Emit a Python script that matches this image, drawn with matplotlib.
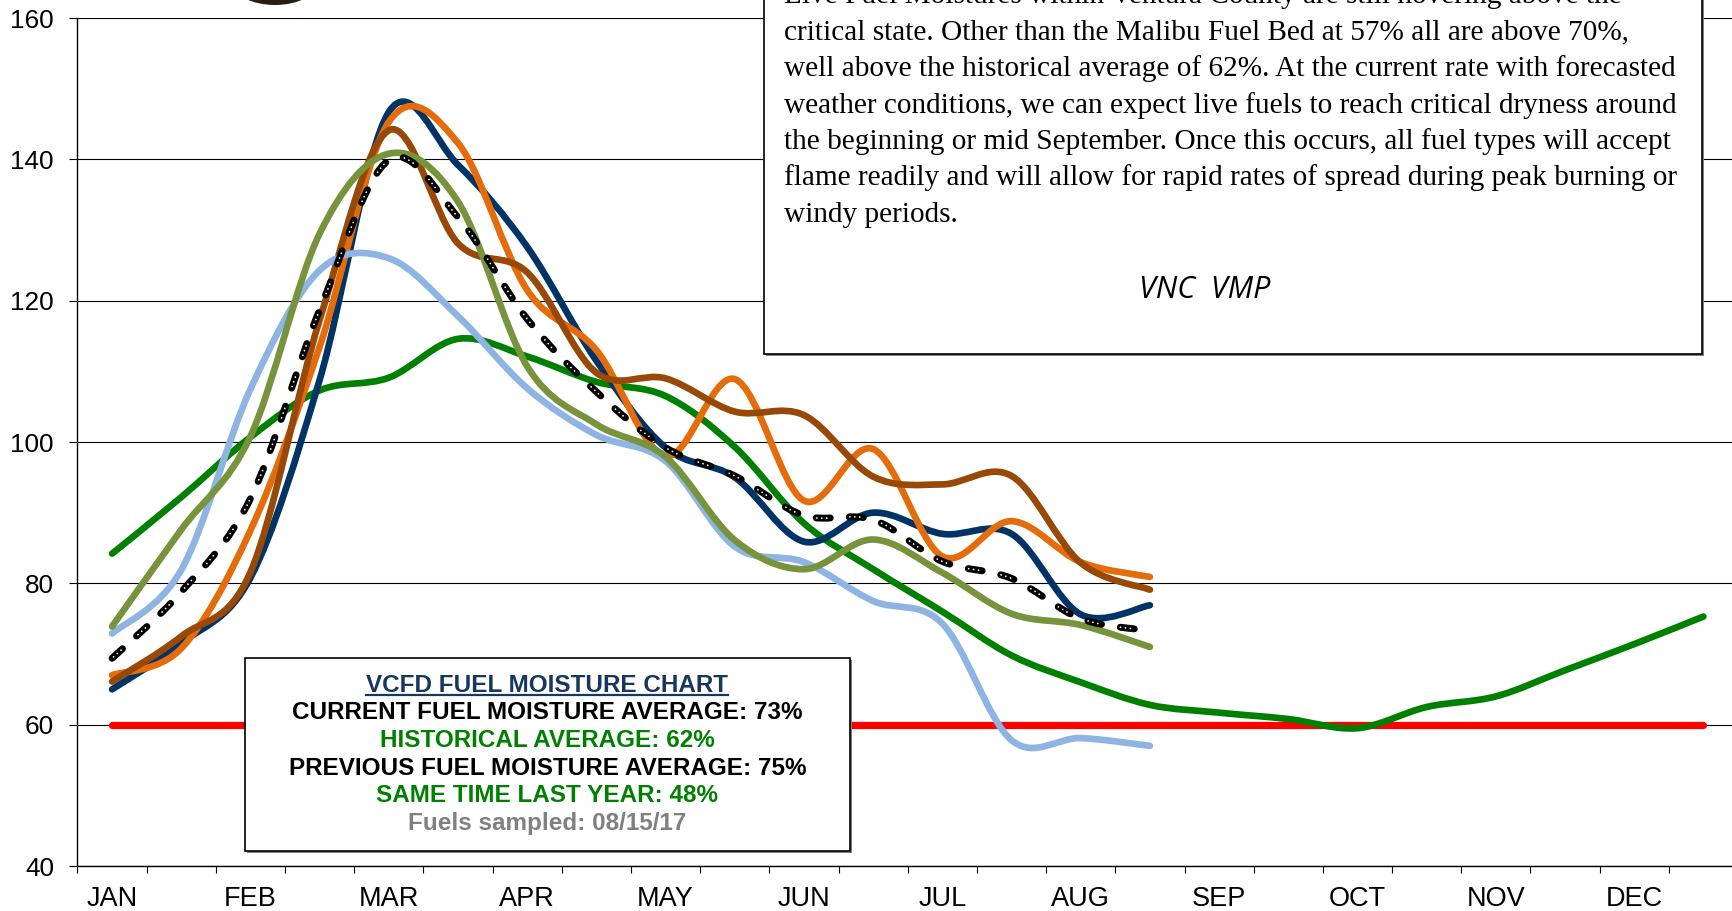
import numpy as np
import matplotlib
matplotlib.use("Agg")
import matplotlib.pyplot as plt
from matplotlib.path import Path
from matplotlib.patches import PathPatch, Rectangle, Ellipse
from matplotlib.lines import Line2D

plt.rcParams["font.family"] = ["Liberation Sans", "DejaVu Sans"]
plt.rcParams["lines.scale_dashes"] = False

W, H = 1733, 911

# semi-monthly sample points, labels on every second slot
months = ["JAN", "FEB", "MAR", "APR", "MAY", "JUN",
          "JUL", "AUG", "SEP", "OCT", "NOV", "DEC"]

# fuel moisture (%) for each sampling site, 2017 season (Jan 1 .. Aug 15)
site_navy = [65.0, 71.5, 80.8, 108.8, 146.7, 139.2, 127.6, 111.5, 99.2, 95.0, 85.9, 90.0, 87.0, 87.0, 75.6, 76.9]
site_orange = [67.0, 70.8, 87.5, 113.5, 145.3, 142.3, 121.5, 113.0, 98.0, 108.9, 91.7, 99.0, 83.8, 88.8, 83.0, 80.9]
site_brown = [66.1, 72.5, 81.6, 117.3, 144.1, 128.1, 124.0, 109.8, 109.0, 104.3, 103.8, 95.1, 94.0, 95.2, 82.9, 79.1]
site_olive = [73.9, 87.6, 100.8, 129.5, 140.8, 134.0, 110.7, 102.5, 97.9, 86.1, 82.0, 86.2, 81.5, 75.7, 74.1, 71.0]
site_malibu = [72.9, 81.9, 107.5, 124.3, 126.0, 117.8, 107.6, 101.0, 97.3, 85.2, 83.0, 77.5, 74.3, 57.8, 58.1, 57.0]
current_avg = [69.4, 78.8, 92.0, 118.7, 139.9, 131.8, 117.4, 107.1, 99.2, 95.2, 89.6, 89.0, 83.1, 80.7, 75.0, 73.3]
historical = [84.2, 92.2, 100.7, 107.3, 109.1, 114.6, 112.1, 108.5, 106.5, 99.3, 88.5, 82.0,
              76.0, 69.8, 66.0, 62.8, 61.7, 60.8, 59.5, 62.5, 64.0, 67.7, 71.4, 75.3]
critical = [60] * 24

y_ticks = [40, 60, 80, 100, 120, 140, 160]


def smooth_path(values):
    # excel style smoothed line: cubic bezier through every point
    pts = np.column_stack([np.arange(len(values), dtype=float), np.asarray(values, float)])
    n = len(pts)
    verts = [pts[0]]
    codes = [Path.MOVETO]
    for i in range(n - 1):
        p0, p1, p2, p3 = pts[max(i - 1, 0)], pts[i], pts[i + 1], pts[min(i + 2, n - 1)]
        verts += [p1 + (p2 - p0) / 6, p2 - (p3 - p1) / 6, p2]
        codes += [Path.CURVE4] * 3
    return Path(verts, codes)


def add_curve(ax, values, color, lw=4.8, z=3, ls="-"):
    patch = PathPatch(smooth_path(values), fill=False, edgecolor=color, lw=lw,
                      capstyle="round", joinstyle="round", zorder=z, linestyle=ls)
    ax.add_patch(patch)
    return patch


def fx(x):
    return x / W


def fy(y):
    return 1 - y / H


fig = plt.figure(figsize=(W / 100, H / 100), dpi=100)
ax = fig.add_axes([fx(77.5), fy(866), (1738 - 77.5) / W, (866 - 18) / H])
ax.set_xlim(-0.5, 23.5)
ax.set_ylim(40, 160)

for s in ["top", "right"]:
    ax.spines[s].set_visible(False)
for s in ["left", "bottom"]:
    ax.spines[s].set_linewidth(1.0)

ax.set_yticks(y_ticks)
ax.yaxis.grid(True, color="black", lw=0.8)
ax.set_axisbelow(True)
ax.tick_params(axis="y", length=6, width=0.8, pad=11, labelsize=18.8)

ax.set_xticks(np.arange(-0.5, 24, 1))
ax.set_xticks(np.arange(0, 24, 2), minor=True)
ax.set_xticklabels(months, minor=True)
ax.tick_params(axis="x", which="major", length=5, width=0.8, labelbottom=False)
ax.tick_params(axis="x", which="minor", length=0, pad=14.5, labelsize=19.5)

ax.plot(np.arange(len(critical)), critical, color="#FF0000", lw=5.2,
        solid_capstyle="round", zorder=2)

add_curve(ax, historical, "#008000", z=3)
add_curve(ax, site_navy, "#003366", z=4)
add_curve(ax, site_orange, "#E46C0A", z=5)
add_curve(ax, site_brown, "#984807", z=6)
add_curve(ax, site_malibu, "#8DB4E2", z=7)
add_curve(ax, site_olive, "#77933C", z=8)

# average: black dashes with small white dots inside each dash
add_curve(ax, current_avg, "black", lw=5.0, z=9, ls=(0, (10.1, 13.7)))
add_curve(ax, current_avg, "white", lw=1.3, z=10,
          ls=(22.3, (0.01, 3.59, 0.01, 3.59, 0.01, 16.56)))

# logo peeking in at the top edge
fig.add_artist(Ellipse((fx(275), fy(-18)), 86 / W, 46 / H, transform=fig.transFigure,
                       facecolor="#2a1c10", edgecolor="none", zorder=6))

# comment box, top right
fig.add_artist(Rectangle((fx(766), fy(356)), (1702 - 764) / W, 380 / H, transform=fig.transFigure,
                         facecolor="#7f7f7f", edgecolor="none", zorder=6))
fig.add_artist(Rectangle((fx(764), fy(354)), (1702 - 764) / W, 380 / H, transform=fig.transFigure,
                         facecolor="white", edgecolor="black", lw=1.2, zorder=7))

comment = [
    "Live Fuel Moistures within Ventura County are still hovering above the",
    "critical state. Other than the Malibu Fuel Bed at 57% all are above 70%,",
    "well above the historical average of 62%. At the current rate with forecasted",
    "weather conditions, we can expect live fuels to reach critical dryness around",
    "the beginning or mid September. Once this occurs, all fuel types will accept",
    "flame readily and will allow for rapid rates of spread during peak burning or",
    "windy periods.",
]
for i, line in enumerate(comment):
    fig.text(fx(784), fy(3.4 + 36.4 * i), line, family="Liberation Serif", fontsize=21.1,
             va="baseline", ha="left", zorder=8)

fig.text(fx(1205), fy(298), "VNC  VMP", family="Open Sans", style="italic", fontsize=22,
         va="baseline", ha="center", zorder=8)

# summary box, lower left
fig.add_artist(Rectangle((fx(247), fy(853)), 605 / W, 193 / H, transform=fig.transFigure,
                         facecolor="#7f7f7f", edgecolor="none", zorder=6))
fig.add_artist(Rectangle((fx(245), fy(851)), 605 / W, 193 / H, transform=fig.transFigure,
                         facecolor="white", edgecolor="black", lw=1.2, zorder=7))

summary = [
    ("VCFD FUEL MOISTURE CHART", "#17375E"),
    ("CURRENT FUEL MOISTURE AVERAGE: 73%", "black"),
    ("HISTORICAL AVERAGE: 62%", "#008000"),
    ("PREVIOUS FUEL MOISTURE AVERAGE: 75%", "black"),
    ("SAME TIME LAST YEAR: 48%", "#008000"),
    ("Fuels sampled: 08/15/17", "#808080"),
]
texts = []
for i, (line, col) in enumerate(summary):
    t = fig.text(fx(547.5), fy(691.5 + 27.7 * i), line, color=col, fontsize=17.5,
                 weight="bold", va="baseline", ha="center", zorder=8)
    texts.append(t)

# underline the title
renderer = fig.canvas.get_renderer()
bb = texts[0].get_window_extent(renderer)
fig.add_artist(Line2D([bb.x0 / W, bb.x1 / W], [fy(695)] * 2, transform=fig.transFigure,
                      color="#17375E", lw=1.6, zorder=8))

fig.savefig("out.png", dpi=100)
